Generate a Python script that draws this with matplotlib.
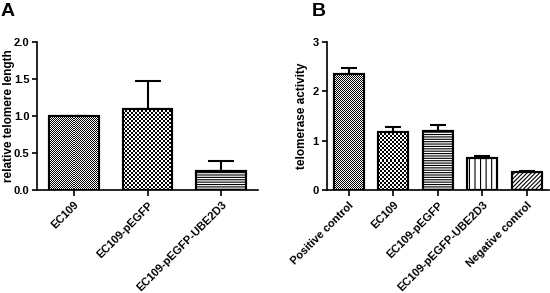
import numpy as np
import matplotlib
matplotlib.use("Agg")
import matplotlib.pyplot as plt

plt.rcParams["font.family"] = ["Liberation Sans", "DejaVu Sans"]
plt.rcParams["font.weight"] = "bold"

# panel A data
a_labels = ["EC109", "EC109-pEGFP", "EC109-pEGFP-UBE2D3"]
a_values = [1.00, 1.10, 0.255]
a_errors = [0.0, 0.37, 0.14]

# panel B data
b_labels = ["Positive control", "EC109", "EC109-pEGFP", "EC109-pEGFP-UBE2D3", "Negative control"]
b_values = [2.35, 1.18, 1.20, 0.65, 0.36]
b_errors = [0.12, 0.10, 0.11, 0.04, 0.02]

a_fills = ["checker1", "checker2", "-------"]
b_fills = ["checker1", "checker2", "-------", "|||", "////////"]

W, H = 550, 293
fig = plt.figure(figsize=(W / 100, H / 100), dpi=100)


def px_axes(x0, x1, y0, y1):
    # axes rectangle given in pixel coords (top-left origin)
    return fig.add_axes([x0 / W, 1 - y1 / H, (x1 - x0) / W, (y1 - y0) / H])


def checker_fill(ax, rect, cell):
    x, y = rect.get_x(), rect.get_y()
    w, h = rect.get_width(), rect.get_height()
    p0 = ax.transData.transform((x, y))
    p1 = ax.transData.transform((x + w, y + h))
    nx = max(1, int(round((p1[0] - p0[0]) / cell)))
    ny = max(1, int(round((p1[1] - p0[1]) / cell)))
    grid = (np.add.outer(np.arange(ny), np.arange(nx)) % 2).astype(float)
    ax.imshow(grid, extent=(x, x + w, y, y + h), cmap="gray", vmin=0, vmax=1,
              interpolation="nearest", aspect="auto", zorder=1.5)


def draw_panel(ax, labels, values, errors, fills, ylim, yticks, ylabel, capsize):
    xs = np.arange(len(labels))
    ax.set_xlim(-0.5, len(labels) - 0.5)
    ax.set_ylim(*ylim)
    bars = ax.bar(xs, values, width=0.67, facecolor="white", edgecolor="black",
                  linewidth=1.5, zorder=1)
    for rect, f in zip(bars, fills):
        if f == "checker1":
            checker_fill(ax, rect, 1.0)
        elif f == "checker2":
            checker_fill(ax, rect, 2.0)
        else:
            rect.set_hatch(f)
    # outlines on top of the textures
    ax.bar(xs, values, width=0.67, fill=False, edgecolor="black", linewidth=1.5, zorder=3)
    ax.errorbar(xs, values, yerr=[np.zeros(len(values)), errors], fmt="none",
                ecolor="black", elinewidth=1.5, capsize=capsize, capthick=1.5, zorder=2.5)
    ax.set_xlim(-0.5, len(labels) - 0.5)
    ax.set_ylim(*ylim)
    ax.set_yticks(yticks)
    ax.set_xticks(xs)
    ax.set_xticklabels(labels, rotation=45, ha="right", rotation_mode="anchor",
                       fontsize=8, fontweight="bold")
    ax.tick_params(axis="y", labelsize=8, width=1.2, length=3.5, pad=2)
    ax.tick_params(axis="x", width=1.2, length=4, pad=3)
    for lab in ax.get_yticklabels():
        lab.set_fontweight("bold")
    ax.set_ylabel(ylabel, fontsize=8.5, fontweight="bold")
    for s in ("top", "right"):
        ax.spines[s].set_visible(False)
    for s in ("left", "bottom"):
        ax.spines[s].set_linewidth(1.2)


plt.rcParams["hatch.linewidth"] = 0.8

ax_a = px_axes(37, 258, 42, 190)
draw_panel(ax_a, a_labels, a_values, a_errors, a_fills, (0, 2.0),
           [0.0, 0.5, 1.0, 1.5, 2.0], "relative telomere length", 9.5)
ax_a.set_yticklabels(["0.0", "0.5", "1.0", "1.5", "2.0"])
ax_a.yaxis.set_label_coords(-22 / 221, 0.5)

ax_b = px_axes(326.5, 549, 42, 190)
draw_panel(ax_b, b_labels, b_values, b_errors, b_fills, (0, 3),
           [0, 1, 2, 3], "telomerase activity", 6)
ax_b.yaxis.set_label_coords(-18 / 222.5, 0.5)

fig.text(1 / W, 1 - 11 / H, "A", fontsize=14, fontweight="bold", va="center", ha="left")
fig.text(312 / W, 1 - 11 / H, "B", fontsize=14, fontweight="bold", va="center", ha="left")

fig.savefig("out.png", dpi=100)
